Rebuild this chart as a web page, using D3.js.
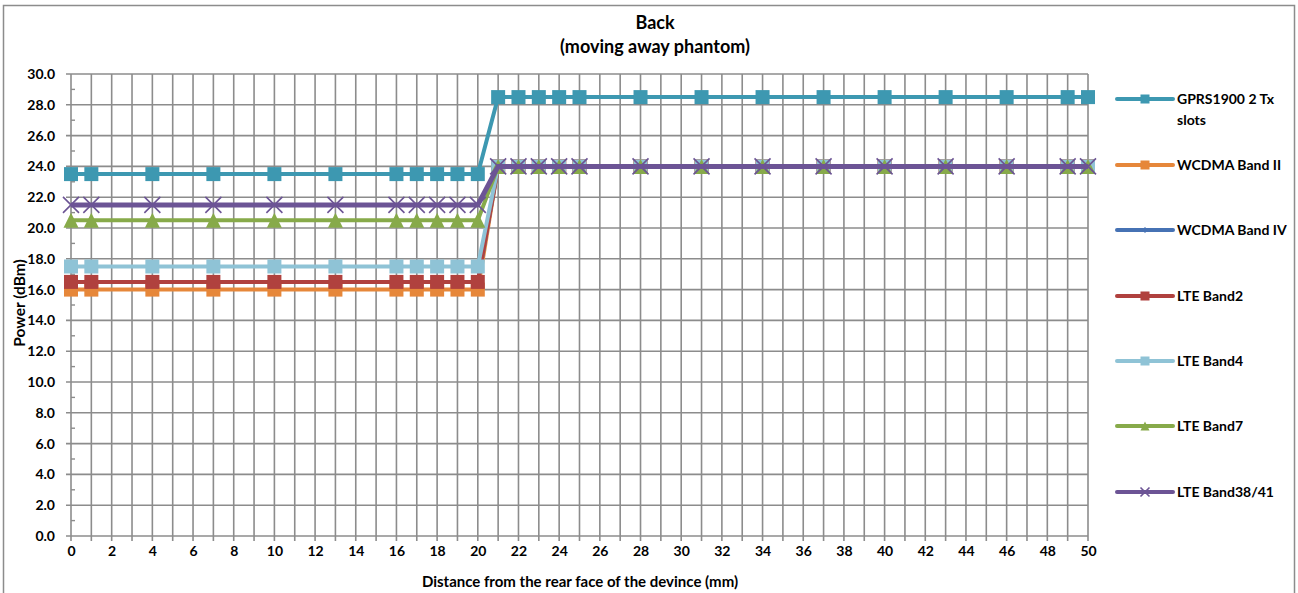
<!DOCTYPE html>
<html>
<head>
<meta charset="utf-8">
<script src="https://cdn.jsdelivr.net/npm/d3@7"></script>
<style>
  html, body { margin: 0; padding: 0; background: #fff; }
  svg { display: block; }
  text { font-family: Lato, "Liberation Sans", sans-serif; font-weight: bold; fill: #000; }
</style>
</head>
<body>
<svg id="chart" width="1298" height="593"></svg>
<script>
// ---- data ----
const distances = [0, 1, 4, 7, 10, 13, 16, 17, 18, 19, 20, 21, 22, 23, 24, 25, 28, 31, 34, 37, 40, 43, 46, 49, 50];
const gprs1900   = [23.5,23.5,23.5,23.5,23.5,23.5,23.5,23.5,23.5,23.5,23.5, 28.5,28.5,28.5,28.5,28.5,28.5,28.5,28.5,28.5,28.5,28.5,28.5,28.5,28.5];
const wcdmaBand2 = [16.0,16.0,16.0,16.0,16.0,16.0,16.0,16.0,16.0,16.0,16.0, 24.0,24.0,24.0,24.0,24.0,24.0,24.0,24.0,24.0,24.0,24.0,24.0,24.0,24.0];
const wcdmaBand4 = [16.5,16.5,16.5,16.5,16.5,16.5,16.5,16.5,16.5,16.5,16.5, 24.0,24.0,24.0,24.0,24.0,24.0,24.0,24.0,24.0,24.0,24.0,24.0,24.0,24.0];
const lteBand2   = [16.5,16.5,16.5,16.5,16.5,16.5,16.5,16.5,16.5,16.5,16.5, 24.0,24.0,24.0,24.0,24.0,24.0,24.0,24.0,24.0,24.0,24.0,24.0,24.0,24.0];
const lteBand4   = [17.5,17.5,17.5,17.5,17.5,17.5,17.5,17.5,17.5,17.5,17.5, 24.0,24.0,24.0,24.0,24.0,24.0,24.0,24.0,24.0,24.0,24.0,24.0,24.0,24.0];
const lteBand7   = [20.5,20.5,20.5,20.5,20.5,20.5,20.5,20.5,20.5,20.5,20.5, 24.0,24.0,24.0,24.0,24.0,24.0,24.0,24.0,24.0,24.0,24.0,24.0,24.0,24.0];
const lteBand3841= [21.5,21.5,21.5,21.5,21.5,21.5,21.5,21.5,21.5,21.5,21.5, 24.0,24.0,24.0,24.0,24.0,24.0,24.0,24.0,24.0,24.0,24.0,24.0,24.0,24.0];

const seriesNames = ["GPRS1900 2 Tx slots", "WCDMA Band II", "WCDMA Band IV", "LTE Band2", "LTE Band4", "LTE Band7", "LTE Band38/41"];
const seriesValues = [gprs1900, wcdmaBand2, wcdmaBand4, lteBand2, lteBand4, lteBand7, lteBand3841];
const seriesColors = ["#3d98b1", "#e6873a", "#4672b4", "#b0413e", "#8fc3d6", "#87aa4a", "#6c5495"];
const seriesMarkers = ["square", "square", "diamond", "square", "square", "triangle", "cross"];

const yTicks = [0,2,4,6,8,10,12,14,16,18,20,22,24,26,28,30];
const xTicks = d3.range(0, 51, 2);

const titleLines = ["Back", "(moving away phantom)"];
const xTitle = "Distance from the rear face of the devince (mm)";
const yTitle = "Power (dBm)";

// ---- layout ----
const svg = d3.select("#chart");
const L = 71, R = 1088, T = 74, B = 536;
const x = d3.scaleLinear().domain([0, 50]).range([L, R]);
const y = d3.scaleLinear().domain([0, 30]).range([B, T]);
const FONT = "Lato, 'Liberation Sans', sans-serif";

// outer frame
svg.append("rect").attr("x", 3.5).attr("y", 5.5).attr("width", 1291).attr("height", 600)
  .attr("fill", "#fff").attr("stroke", "#8c8c8c").attr("stroke-width", 1.5);

// title
svg.selectAll("text.title").data(titleLines).enter().append("text")
  .attr("x", 655).attr("y", (d, i) => 29 + i * 24)
  .attr("text-anchor", "middle").attr("font-size", 18).text(d => d);

const gridColor = "#8c8c8c";
// vertical gridlines each 1 unit
svg.append("g").selectAll("line").data(d3.range(0, 51, 1)).enter().append("line")
  .attr("x1", d => x(d)).attr("x2", d => x(d)).attr("y1", T).attr("y2", B + 5)
  .attr("stroke", gridColor).attr("stroke-width", 1.6);
// horizontal gridlines
svg.append("g").selectAll("line").data(yTicks).enter().append("line")
  .attr("x1", L - 5).attr("x2", R).attr("y1", d => y(d)).attr("y2", d => y(d))
  .attr("stroke", gridColor).attr("stroke-width", 1.6);
// minor y ticks
svg.append("g").selectAll("line").data(d3.range(1, 30, 2)).enter().append("line")
  .attr("x1", L).attr("x2", L + 4).attr("y1", d => y(d)).attr("y2", d => y(d))
  .attr("stroke", gridColor).attr("stroke-width", 1.4);

// axes labels via d3 axes
const yAxis = svg.append("g").attr("transform", `translate(${L},0)`)
  .call(d3.axisLeft(y).tickValues(yTicks).tickFormat(d3.format(".1f")).tickSize(0).tickPadding(16));
yAxis.select(".domain").remove();
yAxis.selectAll("text").attr("font-size", 14).attr("font-family", FONT).attr("font-weight", "bold");

const xAxis = svg.append("g").attr("transform", `translate(0,${B})`)
  .call(d3.axisBottom(x).tickValues(xTicks).tickFormat(d3.format("d")).tickSize(0).tickPadding(10));
xAxis.select(".domain").remove();
xAxis.selectAll("text").attr("font-size", 14).attr("font-family", FONT).attr("font-weight", "bold");

// axis titles
svg.append("text").attr("x", 580).attr("y", 587).attr("text-anchor", "middle")
  .attr("font-size", 15).text(xTitle);
svg.append("text").attr("transform", `translate(25,${303}) rotate(-90)`).attr("text-anchor", "middle")
  .attr("font-size", 15.5).text(yTitle);

// markers
function drawMarker(g, type, cx, cy, color, size) {
  if (type === "square") {
    g.append("rect").attr("x", cx - size / 2).attr("y", cy - size / 2).attr("width", size).attr("height", size)
      .attr("fill", color);
  } else if (type === "diamond") {
    const s = size / 2;
    g.append("path").attr("d", `M${cx},${cy - s}L${cx + s},${cy}L${cx},${cy + s}L${cx - s},${cy}Z`).attr("fill", color);
  } else if (type === "triangle") {
    const s = size / 2;
    g.append("path").attr("d", `M${cx},${cy - s}L${cx + s},${cy + s}L${cx - s},${cy + s}Z`).attr("fill", color);
  } else if (type === "cross") {
    const s = size / 2;
    g.append("path").attr("d", `M${cx - s},${cy - s}L${cx + s},${cy + s}M${cx + s},${cy - s}L${cx - s},${cy + s}`)
      .attr("stroke", color).attr("stroke-width", 1.6).attr("fill", "none");
  }
}
const markerSizes = { square: 14, diamond: 7, triangle: 15, cross: 16 };
const lineWidths = [4, 4, 4, 4, 4, 4, 5];

const line = d3.line().x(d => x(d[0])).y(d => y(d[1]));
seriesValues.forEach((vals, i) => {
  const pts = distances.map((d, j) => [d, vals[j]]);
  const g = svg.append("g");
  g.append("path").attr("d", line(pts)).attr("fill", "none")
    .attr("stroke", seriesColors[i]).attr("stroke-width", lineWidths[i]).attr("stroke-linejoin", "round");
  pts.forEach(p => drawMarker(g, seriesMarkers[i], x(p[0]), y(p[1]), seriesColors[i], markerSizes[seriesMarkers[i]]));
});

// legend
const legY = [99, 165, 230, 296, 361, 426, 492];
seriesNames.forEach((name, i) => {
  const g = svg.append("g");
  const cy = legY[i];
  g.append("line").attr("x1", 1117).attr("x2", 1173).attr("y1", cy).attr("y2", cy)
    .attr("stroke", seriesColors[i]).attr("stroke-width", 4).attr("stroke-linecap", "round");
  const lm = { square: 9, diamond: 6, triangle: 9, cross: 9 }[seriesMarkers[i]];
  drawMarker(g, seriesMarkers[i], 1145, cy, seriesColors[i], lm);
  if (i === 0) {
    g.append("text").attr("x", 1177).attr("y", cy + 5).attr("font-size", 14).text("GPRS1900 2 Tx");
    g.append("text").attr("x", 1177).attr("y", cy + 26).attr("font-size", 14).text("slots");
  } else {
    g.append("text").attr("x", 1177).attr("y", cy + 5).attr("font-size", 14).text(name);
  }
});
</script>
</body>
</html>
